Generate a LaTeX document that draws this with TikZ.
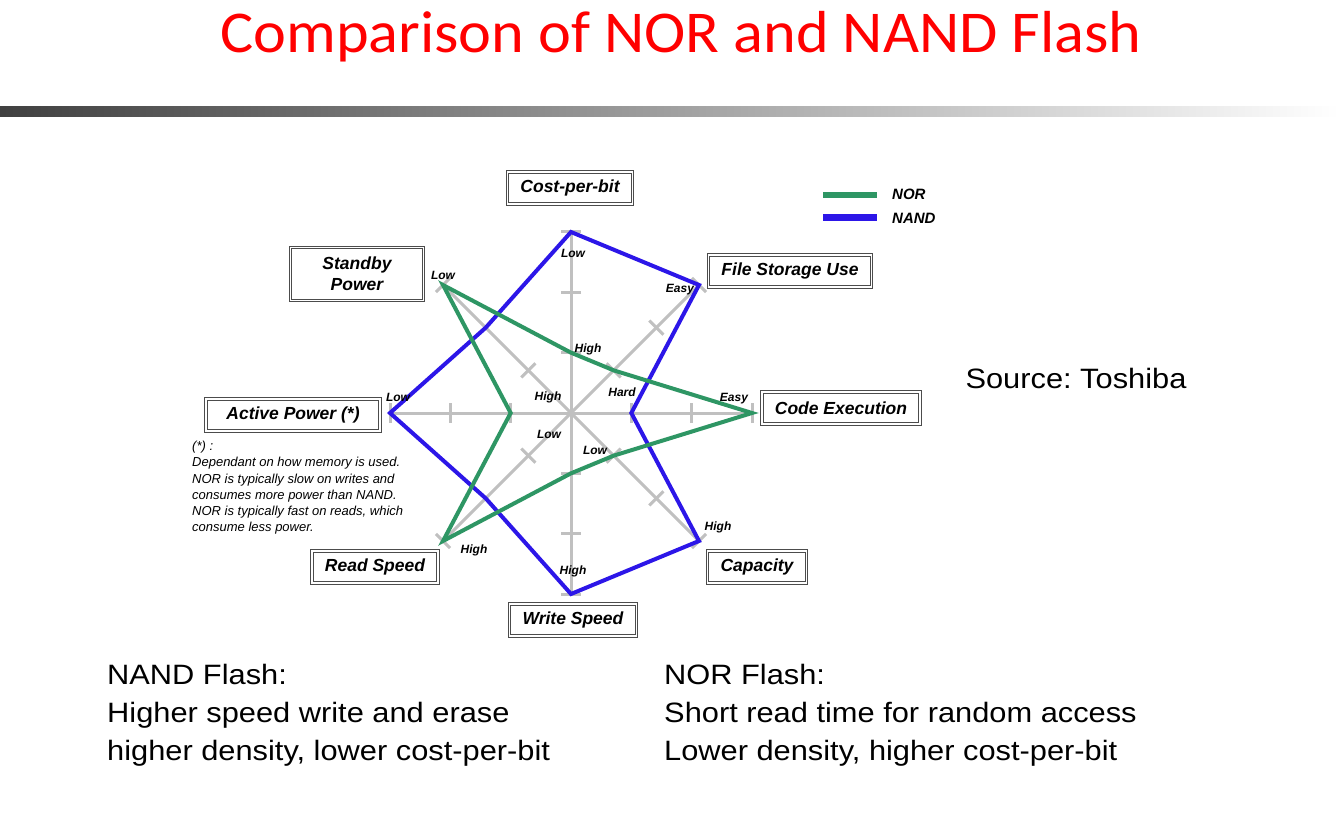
\documentclass[tikz,border=0pt]{standalone}
\usepackage{fontspec}
\setmainfont{Liberation Sans}[FakeStretch=1.1]
\newfontfamily\chartfont{Liberation Sans}
\newfontfamily\titlefont{Carlito}[FakeStretch=1.05]
\usetikzlibrary{positioning}
\definecolor{norgreen}{RGB}{46,150,100}
\definecolor{nandblue}{RGB}{44,22,232}
\definecolor{axisgray}{RGB}{192,192,192}
\definecolor{titlered}{RGB}{255,0,0}
\frenchspacing

\begin{document}
\begin{tikzpicture}[x=1pt,y=-1pt,
    box/.style={draw=black!70,double=white,double distance=1.6pt,line width=0.9pt,minimum height=32pt,inner xsep=13pt,inner ysep=2pt,align=center,font=\chartfont\fontsize{17.5}{21}\selectfont\bfseries\itshape},
    lvl/.style={inner sep=0pt,font=\chartfont\fontsize{12}{14}\selectfont\bfseries\itshape},
    spoke/.style={draw=axisgray,line width=3pt},
    nor/.style={draw=norgreen,line width=4pt},
    nand/.style={draw=nandblue,line width=4pt}]
  \useasboundingbox (0,0) rectangle (1339,821);
  \fill[white] (0,0) rectangle (1339,821);
  \shade[left color=black!75,right color=white] (0,107) rectangle (1339,117);
  \node[font=\titlefont\fontsize{59.3}{70}\selectfont,text=titlered] (title) at (681,37) {Comparison of NOR and NAND Flash};

  \coordinate (c) at (571,413);
  \foreach \a/\n in {-90/cost,-45/file,0/code,45/cap,90/write,135/read,180/active,225/stand}{
    \draw[spoke] (c) -- ([shift={(\a:181)}]c) coordinate (\n3);
    \foreach \k in {1,2}
      \path ([shift={(\a:{\k*60.33})}]c) coordinate (\n\k);
    \foreach \k in {1,2,3}
      \draw[spoke] ([shift={({\a+90}:10)}]\n\k) -- ([shift={({\a-90}:10)}]\n\k);
  }
  \draw[nand] (cost3) -- (file3) -- (code1) -- (cap3) -- (write3) -- (read2) -- (active3) -- (stand2) -- cycle;
  \draw[nor] (cost1) -- (file1) -- (code3) -- (cap1) -- (write1) -- (read3) -- (active1) -- (stand3) -- cycle;

  \foreach \n/\p/\t in {lcost3/{573,253}/Low, lstand3/{443,275}/Low, lfile3/{680,290}/Easy, lcode3/{734,399}/Easy,
      lcap3/{718,527}/High, lwrite3/{573,571}/High, lread3/{474,550}/High, lactive3/{398,397}/Low,
      lcost1/{588,349}/High, lfile1/{622,392}/Hard, lcap1/{595,450}/Low, lread1/{549,434}/Low, lactive1/{548,397}/High}
    \node[lvl] (\n) at (\p) {\t};

  \node[box] (costbox) at (570,188) {Cost-per-bit};
  \node[box,minimum height=53pt,minimum width=133pt] (standbox) at (357,274) {Standby\\Power};
  \node[box,minimum width=174pt] (activebox) at (293,415) {Active Power (*)};
  \node[box] (filebox) at (790,271) {File Storage Use};
  \node[box] (codebox) at (841,408) {Code Execution};
  \node[box] (readbox) at (375,567) {Read Speed};
  \node[box] (capbox) at (757,567) {Capacity};
  \node[box] (writebox) at (573,620) {Write Speed};

  \node[lvl,anchor=west,font=\chartfont\fontsize{15}{18}\selectfont\bfseries\itshape] (norkey) at (892,194) {NOR};
  \node[lvl,anchor=west,font=\chartfont\fontsize{15}{18}\selectfont\bfseries\itshape] (nandkey) at (892,218) {NAND};
  \coordinate (norA) at (823,195);
  \coordinate (norB) at (877,195);
  \coordinate (nandA) at (823,218);
  \coordinate (nandB) at (877,218);
  \draw[nor,line width=6pt] (norA) -- (norB);
  \draw[nand,line width=7pt] (nandA) -- (nandB);

  \node[anchor=north west,align=left,inner sep=0pt,font=\chartfont\fontsize{13}{16.2}\selectfont\itshape] (note) at (192,441)
    {(*) :\\Dependant on how memory is used.\\NOR is typically slow on writes and\\consumes more power than NAND.\\NOR is typically fast on reads, which\\consume less power.};

  \node[font=\fontsize{28}{34}\selectfont] (source) at (1076,378) {Source: Toshiba};
  \node[anchor=north west,align=left,inner sep=0pt,font=\fontsize{28}{38}\selectfont] (nandtxt) at (107,664)
    {NAND Flash:\\Higher speed write and erase\\higher density, lower cost-per-bit};
  \node[anchor=north west,align=left,inner sep=0pt,font=\fontsize{28}{38}\selectfont] (nortxt) at (664,664)
    {NOR Flash:\\Short read time for random access\\Lower density, higher cost-per-bit};
\end{tikzpicture}
\end{document}
